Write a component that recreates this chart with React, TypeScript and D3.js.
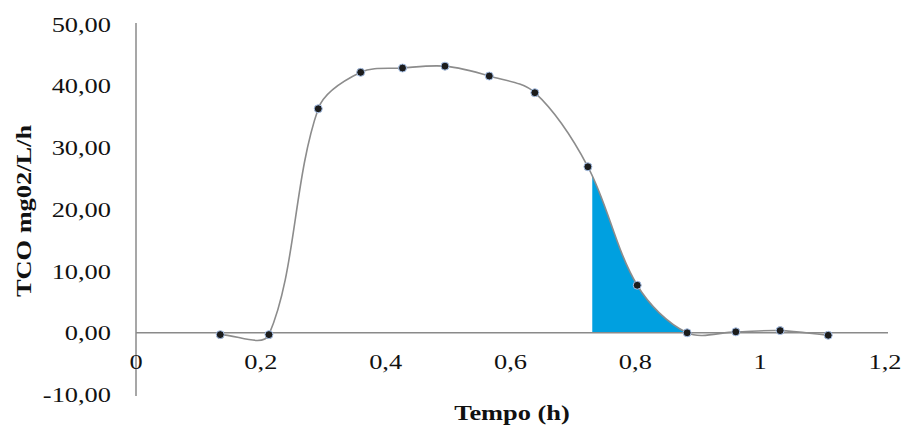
import React from "react";
import * as d3 from "d3";

const timeH = [0.135, 0.213, 0.292, 0.36, 0.427, 0.495, 0.566, 0.639, 0.724, 0.803, 0.883, 0.961, 1.032, 1.109];
const tco = [-0.3, -0.3, 36.3, 42.2, 42.9, 43.2, 41.6, 38.9, 26.9, 7.7, 0.0, 0.15, 0.35, -0.4];
const xTicks = [0, 0.2, 0.4, 0.6, 0.8, 1, 1.2];
const yTicks = [-10, 0, 10, 20, 30, 40, 50];
const shadeRange = [0.731, 0.883];
const xTitle = "Tempo (h)";
const yTitle = "TCO mg02/L/h";

const W = 907;
const H = 430;

const locale = d3.formatLocale({ decimal: ",", thousands: ".", grouping: [3], currency: ["", ""], minus: "-" });
const fmtX = locale.format("~g");
const fmtY = locale.format(".2f");

// Excel-like smoothed line: cubic Beziers with tangents scaled by neighbouring chord lengths
function smoothPath(p: [number, number][]): string {
  const n = p.length;
  const dist = (a: [number, number], b: [number, number]) => Math.hypot(b[0] - a[0], b[1] - a[1]);
  const outC: [number, number][] = [];
  const inC: [number, number][] = [];
  for (let i = 0; i < n; i++) {
    const prev = p[Math.max(0, i - 1)];
    const next = p[Math.min(n - 1, i + 1)];
    const tx = next[0] - prev[0];
    const ty = next[1] - prev[1];
    const dPrev = i > 0 ? dist(p[i - 1], p[i]) : 0;
    const dNext = i < n - 1 ? dist(p[i], p[i + 1]) : 0;
    const sum = dPrev + dNext || 1;
    const so = (dNext / sum) / 3;
    const si = (dPrev / sum) / 3;
    outC.push([p[i][0] + tx * so, p[i][1] + ty * so]);
    inC.push([p[i][0] - tx * si, p[i][1] - ty * si]);
  }
  let d = `M${p[0][0]},${p[0][1]}`;
  for (let i = 0; i < n - 1; i++) {
    d += `C${outC[i][0]},${outC[i][1]} ${inC[i + 1][0]},${inC[i + 1][1]} ${p[i + 1][0]},${p[i + 1][1]}`;
  }
  return d;
}

export default function App() {
  const x = d3.scaleLinear().domain([0, 1.2]).range([136, 885]);
  const y = d3.scaleLinear().domain([-10, 50]).range([394.5, 24.2]);
  const px = timeH.map((t, i) => [x(t), y(tco[i])] as [number, number]);
  const linePath = smoothPath(px);
  const areaPath = `${linePath}L${px[px.length - 1][0]},${y(0)}L${px[0][0]},${y(0)}Z`;
  const font = "'Liberation Serif', 'Times New Roman', serif";
  const sx = 1.2;
  return (
    <svg width={W} height={H} style={{ position: "absolute", left: 0, top: 0, background: "#fff" }}>
      <defs>
        <clipPath id="shade">
          <rect x={x(shadeRange[0])} y={0} width={x(shadeRange[1]) - x(shadeRange[0])} height={y(0)} />
        </clipPath>
      </defs>
      <rect x={0} y={0} width={W} height={H} fill="#fff" />
      <path d={areaPath} fill="#00a0e0" clipPath="url(#shade)" />
      <line x1={x(0)} x2={x(0)} y1={23} y2={396} stroke="#8a8a8a" strokeWidth={1.5} />
      <line x1={x(0)} x2={888} y1={y(0)} y2={y(0)} stroke="#8a8a8a" strokeWidth={1.5} />
      <path d={linePath} fill="none" stroke="#8c8c8c" strokeWidth={1.6} />
      {px.map((p, i) => (
        <circle key={i} cx={p[0]} cy={p[1]} r={4} fill="#1c1c1c" stroke="#a9c3ea" strokeWidth={1} />
      ))}
      {yTicks.map((t) => (
        <text
          key={"y" + t}
          transform={`translate(111,${y(t) + 7.5}) scale(${sx},1)`}
          textAnchor="end"
          fontFamily={font}
          fontSize={22}
          fill="#111"
        >
          {fmtY(t)}
        </text>
      ))}
      {xTicks.map((t) => (
        <text
          key={"x" + t}
          transform={`translate(${x(t)},369) scale(${sx},1)`}
          textAnchor="middle"
          fontFamily={font}
          fontSize={22}
          fill="#111"
        >
          {fmtX(t)}
        </text>
      ))}
      <text
        transform={`translate(512,420) scale(${sx},1)`}
        textAnchor="middle"
        fontFamily={font}
        fontSize={22}
        fontWeight="bold"
        fill="#111"
      >
        {xTitle}
      </text>
      <text
        transform={`translate(31,211) rotate(-90) scale(${sx},1)`}
        textAnchor="middle"
        fontFamily={font}
        fontSize={22}
        fontWeight="bold"
        fill="#111"
      >
        {yTitle}
      </text>
    </svg>
  );
}
